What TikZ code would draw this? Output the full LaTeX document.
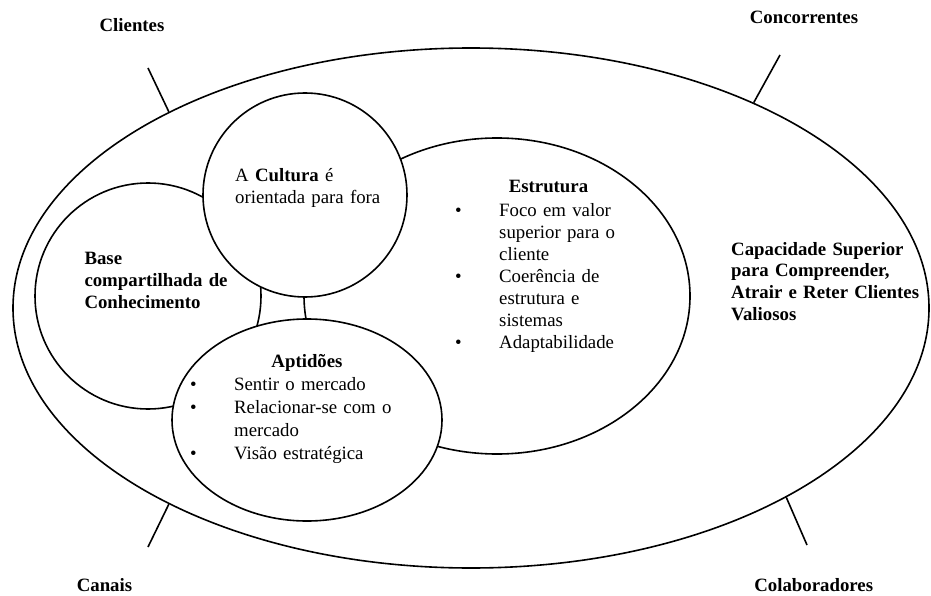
\documentclass[tikz,border=0pt]{standalone}
\usepackage{fontspec}
\setmainfont{Liberation Serif}
\usetikzlibrary{shapes.geometric}
\newcommand\mybul{\makebox[44pt][l]{\textbullet}}
\newcommand\myind{\hspace*{44pt}}
\begin{document}
\begin{tikzpicture}[x=1pt,y=-1pt,
  shapeline/.style={draw=black, line width=1.6pt},
  blob/.style={shapeline, fill=white, inner sep=0pt},
  txt/.style={inner sep=0pt, font=\fontsize{18.8pt}{22pt}\selectfont, text width=#1, align=left, anchor=base west},
  txtb/.style={txt=#1, font=\fontsize{18.8pt}{22pt}\selectfont\bfseries},
  lbl/.style={inner sep=0pt, font=\fontsize{18.8pt}{22pt}\selectfont\bfseries, anchor=base},
  tick/.style={line width=1.6pt}]
\useasboundingbox (0,0) rectangle (931,596);
% shapes
\node[ellipse, shapeline, inner sep=0pt, minimum width=916pt, minimum height=520pt] (outer) at (471,308) {};
\node[ellipse, blob, minimum width=386pt, minimum height=316pt] (estr) at (497,296) {};
\node[circle, blob, minimum size=226pt] (base) at (148,296) {};
\node[circle, blob, minimum size=204pt] (cult) at (305,195) {};
\node[ellipse, blob, minimum width=270pt, minimum height=202pt] (apt) at (307,420) {};
% ticks
\coordinate (cliend) at (148,68);
\coordinate (conend) at (780,55);
\coordinate (canend) at (148,547);
\coordinate (colend) at (807,545);
\draw[tick] (cliend) -- (outer.147);
\draw[tick] (conend) -- (outer.36);
\draw[tick] (canend) -- (outer.-147);
\draw[tick] (colend) -- (outer.-31);
% outer labels
\node[lbl] (cli) at (132,31.7) {Clientes};
\node[lbl] (con) at (804,24) {Concorrentes};
\node[lbl] (can) at (104.5,591.5) {Canais};
\node[lbl] (col) at (813.7,591.5) {Colaboradores};
% texts
\node[txt=200pt] (culttxt) at (235,181.7) {A \textbf{Cultura} é\\orientada para fora};
\node[txtb=200pt] (basetxt) at (84.3,264) {Base\\compartilhada de\\Conhecimento};
\node[lbl] (estrtitle) at (548.5,193) {Estrutura};
\node[txt=240pt] (estrlist) at (455,216.7) {\mybul Foco em valor\\\myind superior para o\\\myind cliente\\\mybul Coerência de\\\myind estrutura e\\\myind sistemas\\\mybul Adaptabilidade};
\node[lbl] (apttitle) at (307,367.7) {Aptidões};
\node[txt=260pt, font=\fontsize{18.8pt}{22.9pt}\selectfont] (aptlist) at (190,390.7) {\mybul Sentir o mercado\\\mybul Relacionar-se com o\\\myind mercado\\\mybul Visão estratégica};
\node[txtb=240pt, font=\fontsize{18.8pt}{21.7pt}\selectfont\bfseries] (cap) at (731,255) {Capacidade Superior\\para Compreender,\\Atrair e Reter Clientes\\Valiosos};
\end{tikzpicture}
\end{document}
